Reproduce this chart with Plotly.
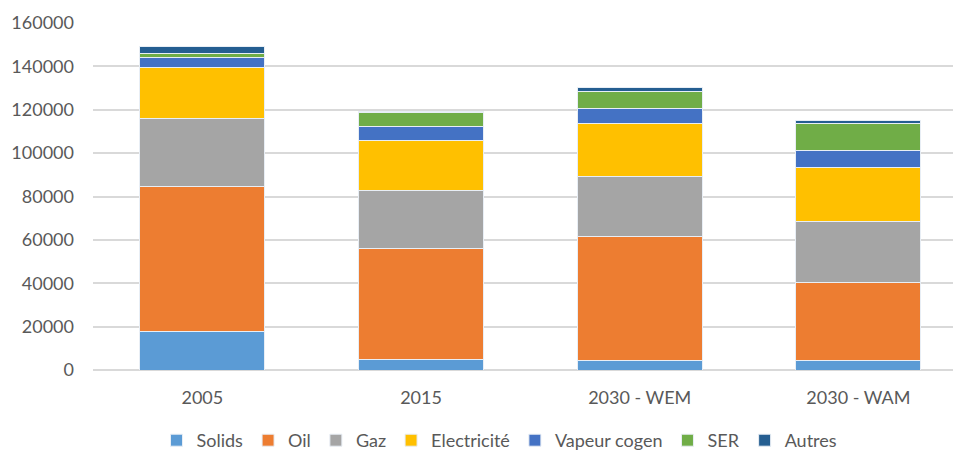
import plotly.graph_objects as go

annees = ["2005", "2015", "2030 - WEM", "2030 - WAM"]

solids = [17600, 5000, 4300, 4300]
oil = [66900, 51200, 57300, 36100]
gaz = [31500, 26700, 27800, 28300]
electricite = [23700, 23100, 24300, 24600]
vapeur_cogen = [4600, 6200, 7100, 7700]
ser = [1700, 6400, 7800, 12800]
autres = [3200, 700, 1600, 1300]

series = [
    ("Solids", solids, "#5B9BD5"),
    ("Oil", oil, "#ED7D31"),
    ("Gaz", gaz, "#A5A5A5"),
    ("Electricité", electricite, "#FFC000"),
    ("Vapeur cogen", vapeur_cogen, "#4472C4"),
    ("SER", ser, "#70AD47"),
    ("Autres", autres, "#255E91"),
]

# la page ajoute une marge de 8 px autour de la figure
W, H = 953, 444

fig = go.Figure()
for nom, valeurs, couleur in series:
    fig.add_trace(go.Bar(
        x=annees,
        y=valeurs,
        name=nom,
        marker=dict(color=couleur, line=dict(color="#E8EEF5", width=1)),
    ))

fig.update_layout(
    barmode="stack",
    bargap=0.428,
    width=W,
    height=H,
    paper_bgcolor="white",
    plot_bgcolor="white",
    font=dict(family="Lato", size=18, color="#595959"),
    margin=dict(l=85, r=0, t=15, b=81.5, autoexpand=False),
    showlegend=True,
    legend=dict(
        orientation="h",
        traceorder="normal",
        xref="container",
        yref="container",
        x=491.5 / W,
        xanchor="center",
        y=(H - 414) / H,
        yanchor="top",
        font=dict(size=18, color="#595959"),
        itemwidth=30,
    ),
)

fig.update_xaxes(
    range=[-0.5, 3.469],
    showgrid=False,
    showline=False,
    ticks="",
    ticklabelstandoff=15,
)
fig.update_yaxes(
    range=[0, 160000],
    dtick=20000,
    tickformat="d",
    showgrid=True,
    gridcolor="#D9D9D9",
    gridwidth=1.5,
    zeroline=True,
    zerolinecolor="#D9D9D9",
    zerolinewidth=1.5,
    ticks="",
    ticklabelstandoff=18,
)

fig.write_html("out.html")
